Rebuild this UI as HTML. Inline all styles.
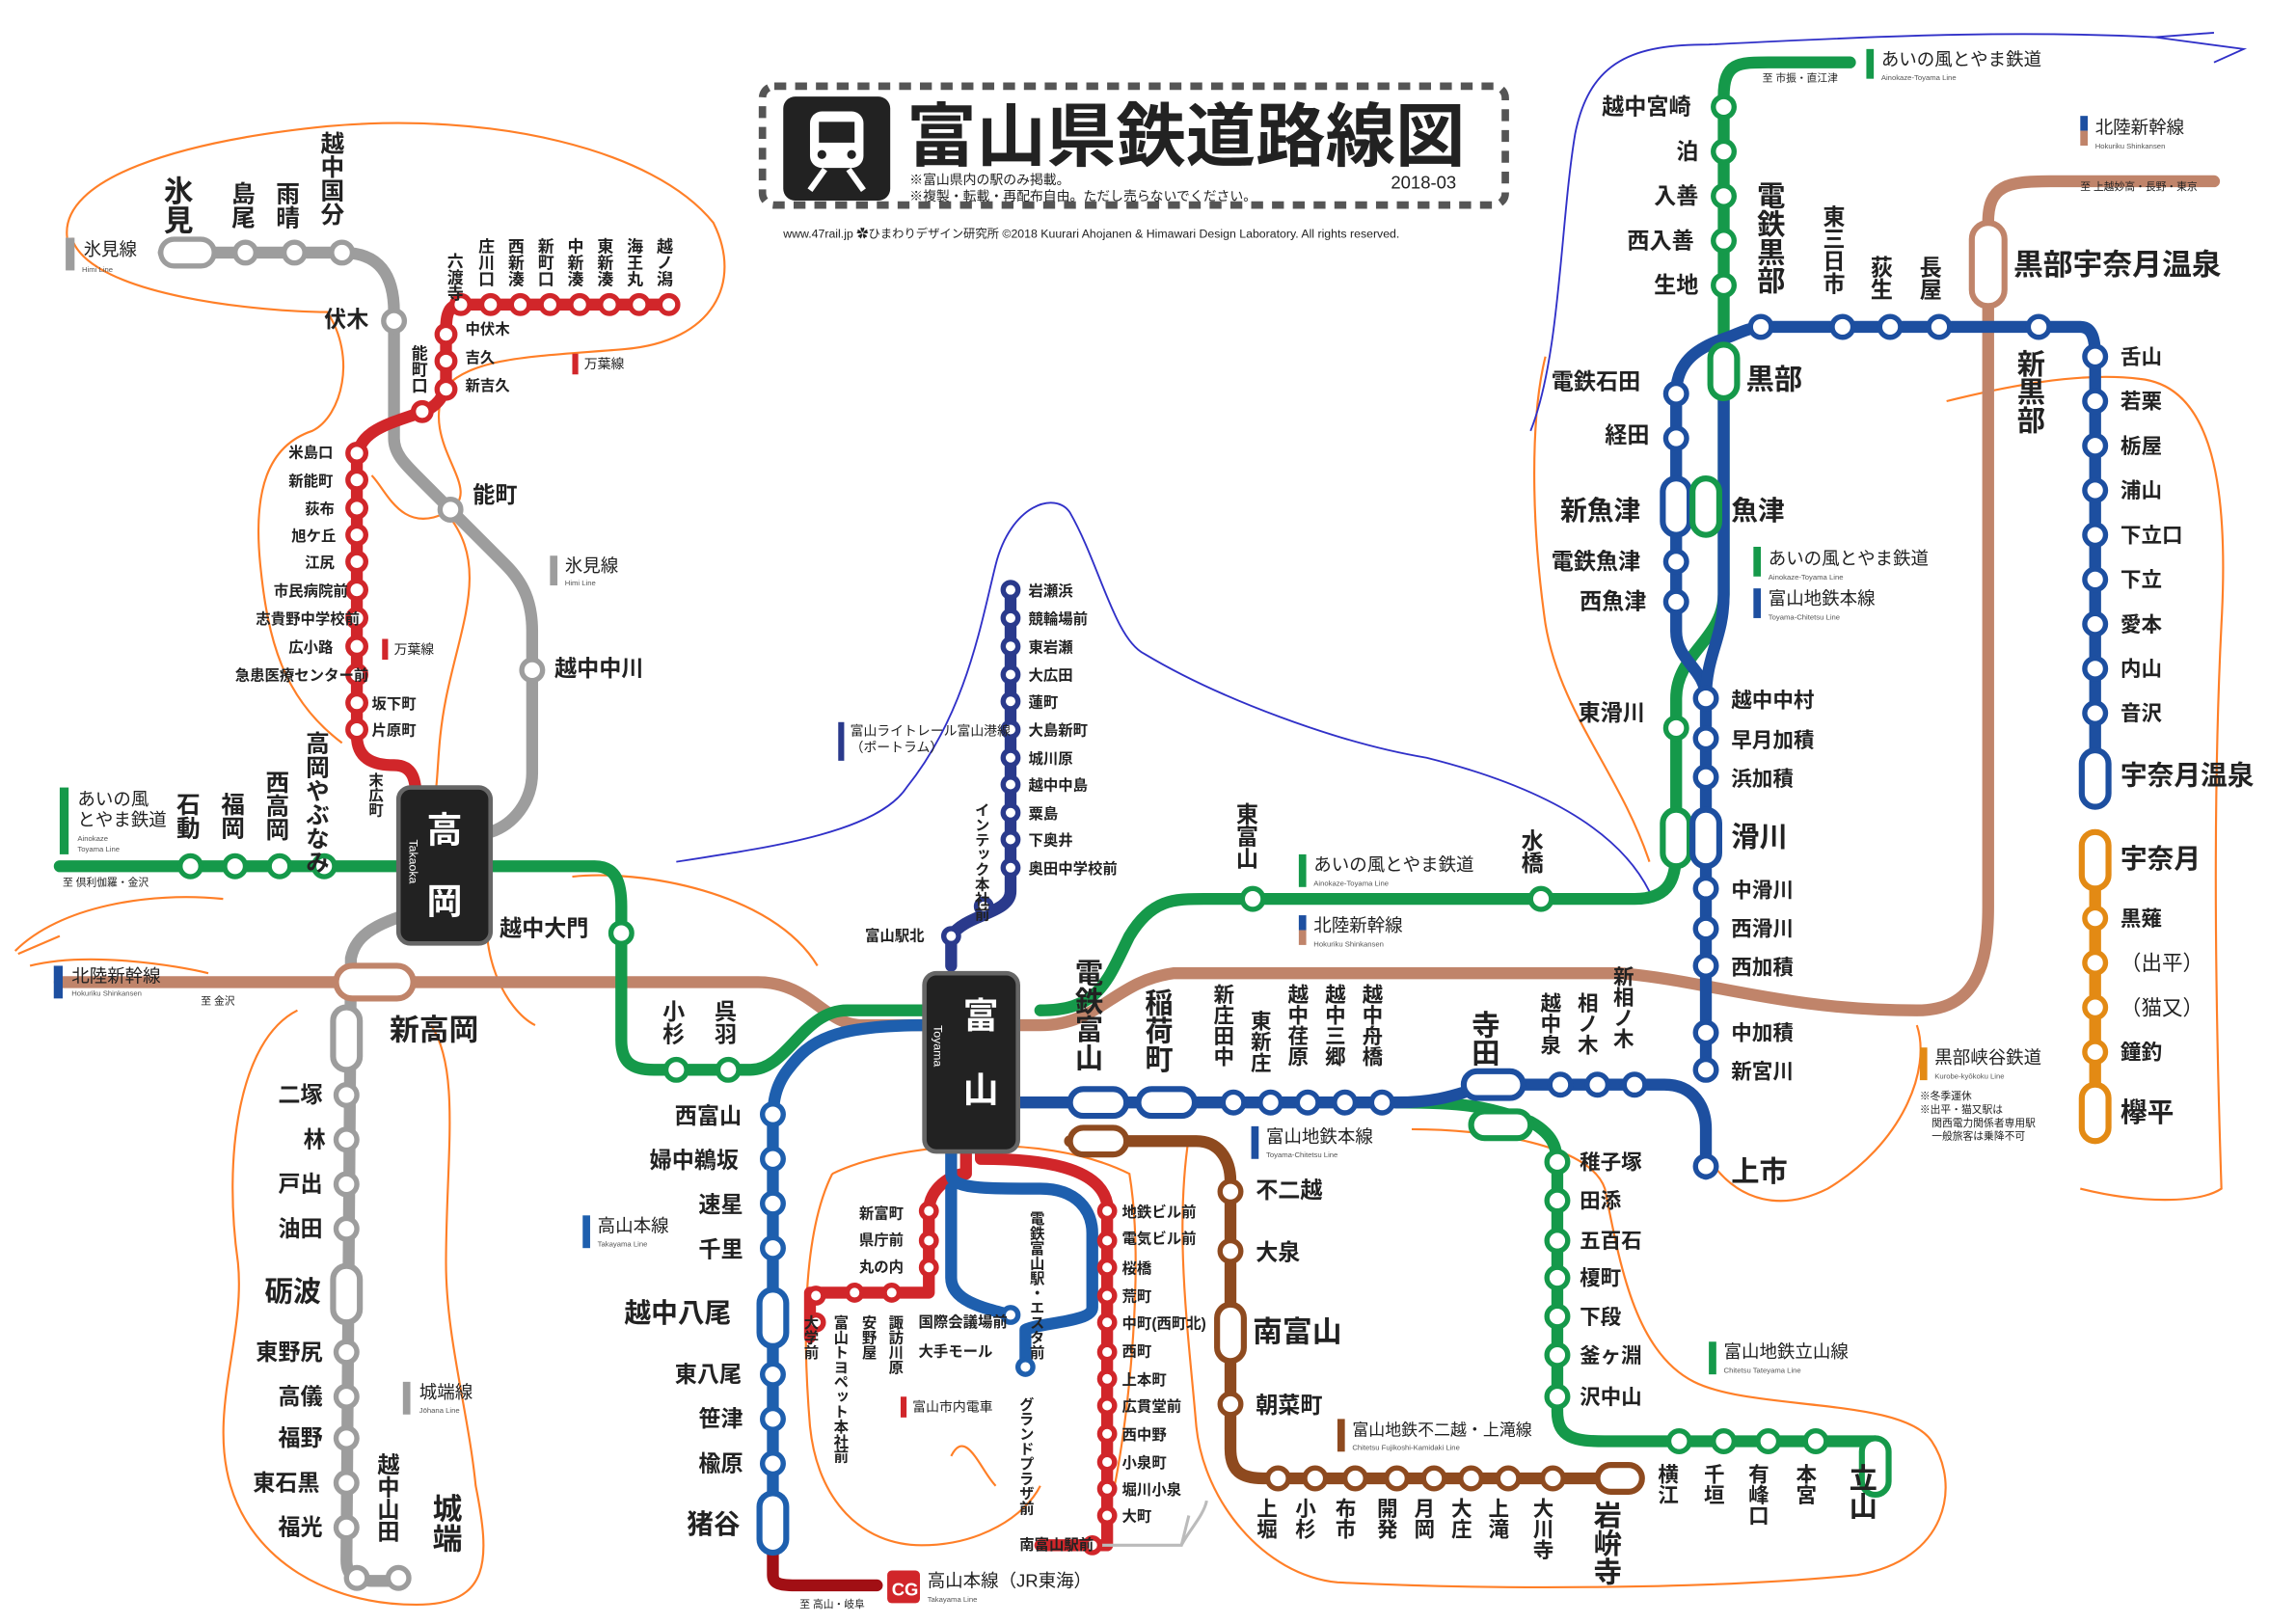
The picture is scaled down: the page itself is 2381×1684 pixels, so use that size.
<!DOCTYPE html>
<html><head><meta charset="utf-8"><style>
html,body{margin:0;padding:0;background:#fff}
svg{display:block}
text{font-family:"Liberation Sans","Noto Sans CJK JP",sans-serif;fill:#222}
.v{writing-mode:tb;glyph-orientation-vertical:0}
.s{fill:#fff;stroke-width:3.5}
.L{fill:none;stroke-width:8;stroke-linecap:round;stroke-linejoin:round}
.o{fill:none;stroke:#ff7f27;stroke-width:1.4}
.b{fill:none;stroke:#3030c8;stroke-width:1.2}
.sm{font-size:5px;fill:#555}
</style></head><body>
<svg width="2381" height="1684" viewBox="0 0 1545 1093" xmlns="http://www.w3.org/2000/svg">
<rect width="1545" height="1093" fill="#fff"/>

<!-- hand drawn outlines -->
<path class="o" d="M45,160 C40,120 120,95 220,85 C330,75 440,100 480,150 C500,190 480,230 420,235 C360,240 320,240 300,260 C280,300 330,330 300,345 C270,360 260,330 250,320 M300,345 C330,380 310,420 300,470 C290,520 300,540 280,560"/>
<path class="o" d="M48,160 C60,200 180,210 220,210 C240,240 230,280 210,290 C180,300 170,330 175,380 C180,430 190,470 230,500"/>
<path class="o" d="M10,640 C40,610 100,600 150,605 M12,642 L40,630 M20,650 C60,640 120,650 140,655"/>
<path class="o" d="M330,600 C320,640 340,680 360,690 M385,590 C430,585 520,600 550,650"/>
<path class="o" d="M200,680 C160,700 150,780 160,850 C165,900 140,950 155,1000 C170,1050 220,1080 280,1080 C330,1080 330,1050 320,1000 C315,950 300,900 300,850 C300,780 310,720 290,690"/>
<path class="o" d="M560,790 C540,830 540,900 545,960 C550,1010 580,1040 620,1040 C660,1040 690,1020 700,1000 M560,790 C600,770 700,760 760,790 C770,850 760,950 750,1000 M640,980 C650,960 660,990 670,1000"/>
<path class="o" d="M800,765 C790,830 800,900 805,960 C810,1010 850,1060 900,1065 C1000,1070 1150,1070 1250,1060 C1310,1050 1320,1000 1300,970 C1280,940 1180,950 1140,930 C1100,910 1090,850 1080,800 C1070,770 1000,760 950,760"/>
<path class="o" d="M1040,240 C1030,280 1030,350 1040,420 C1050,480 1090,520 1110,580 M1150,780 C1170,810 1200,815 1230,800 C1280,770 1300,720 1290,690 M1310,270 C1350,260 1400,250 1440,255 C1490,260 1500,330 1495,420 C1490,520 1490,650 1495,800 C1480,810 1440,810 1400,800"/>
<path class="b" d="M455,580 C520,570 590,560 610,530 C650,480 660,420 670,380 C680,340 710,330 720,345 C740,380 750,430 770,440 C820,470 900,500 960,510 C1040,530 1090,560 1110,600"/>
<path class="b" d="M1030,290 C1050,240 1050,150 1060,90 C1070,40 1100,30 1150,30 C1250,25 1350,20 1450,25 L1510,33 L1490,42 M1450,25 L1490,22"/>

<!-- title -->
<rect x="513" y="58" width="500" height="80" fill="none" stroke="#555" stroke-width="5" stroke-dasharray="8,6" rx="8"/>
<rect x="527" y="65" width="72" height="70" rx="8" fill="#222"/>
<rect x="545" y="75" width="36" height="38" rx="8" fill="#fff"/>
<rect x="551" y="82" width="24" height="14" fill="#222"/>
<circle cx="553" cy="104" r="3" fill="#222"/><circle cx="573" cy="104" r="3" fill="#222"/>
<path d="M545,128 L555,114 M581,128 L571,114" stroke="#fff" stroke-width="4"/>
<text x="610" y="108" font-size="47" font-weight="bold">富山県鉄道路線図</text>
<text x="612" y="124" font-size="9">※富山県内の駅のみ掲載。</text>
<text x="612" y="135" font-size="9">※複製・転載・再配布自由。ただし売らないでください。</text>
<text x="936" y="127" font-size="12">2018-03</text>
<text x="527" y="160" font-size="8">www.47rail.jp ✿ひまわりデザイン研究所 ©2018 Kuurari Ahojanen &amp; Himawari Design Laboratory. All rights reserved.</text>

<!-- LINES -->
<!-- shinkansen -->
<path class="L" stroke="#c0846a" stroke-width="9" d="M40,661 L510,661 C545,661 555,690 580,690 L700,690 C740,690 750,660 790,655 L1090,655 C1150,660 1200,680 1290,680 C1330,680 1338,650 1338,610 L1338,150 C1338,125 1350,122 1380,122 L1490,122"/>
<!-- ainokaze -->
<path class="L" stroke="#15994a" d="M40,583 L400,583 C415,583 418,595 418,610 L418,700 C418,715 425,720 440,720 L505,720 C530,720 540,680 570,680 L650,680 M700,680 C740,680 745,660 760,630 C775,605 790,605 810,605 L1100,605 C1125,605 1128,590 1128,570 L1128,470 C1128,440 1160,430 1160,400 L1160,65 C1160,42 1170,42 1190,42 L1245,42"/>
<!-- tateyama line -->
<path class="L" stroke="#15994a" d="M940,742 C990,742 1000,745 1030,755 C1048,765 1048,775 1048,790 L1048,950 C1048,968 1060,970 1080,970 L1262,970 L1262,1000"/>
<!-- himi line -->
<path class="L" stroke="#9d9d9d" d="M110,170 L230,170 C255,170 265,185 265,210 L265,295 C265,305 272,312 280,320 L340,380 C352,392 358,405 358,425 L358,520 C358,540 345,555 330,560"/>
<!-- johana -->
<path class="L" stroke="#9d9d9d" d="M290,610 C260,620 240,625 236,645 L233,1050 C233,1062 240,1064 252,1064 L272,1064"/>
<!-- manyo -->
<path class="L" stroke="#d1262a" d="M450,205 L310,205 C300,205 300,215 300,225 L300,255 C300,268 292,275 282,278 C262,285 240,290 240,310 L240,495 C240,510 250,515 265,515 C278,515 280,525 280,540 L280,555"/>
<!-- takayama -->
<path class="L" stroke="#1e5fae" d="M625,690 C560,690 545,700 530,720 C520,733 520,745 520,760 L520,1030"/>
<path class="L" stroke="#a10f14" d="M520,1030 L520,1060 C520,1066 525,1067 535,1067 L590,1067"/>
<!-- portram -->
<path class="L" stroke="#2a3a8c" stroke-width="6" d="M680,395 L680,600 C680,615 650,615 640,630 L640,650"/>
<!-- chitetsu main -->
<path class="L" stroke="#1d4fa0" d="M660,742 L940,742 C980,742 990,730 1010,730 L1120,730 C1140,730 1148,745 1148,760 L1148,790"/>
<path class="L" stroke="#1d4fa0" d="M1148,720 L1148,470 C1148,450 1128,445 1128,425 L1128,265 C1128,245 1140,235 1160,228 C1170,225 1175,220 1190,220 L1400,220 C1408,220 1410,228 1410,240 L1410,530"/>
<path class="L" stroke="#1d4fa0" d="M1148,470 C1148,440 1160,430 1160,400 L1160,260"/>
<!-- kurobe gorge -->
<path class="L" stroke="#e38a14" d="M1410,570 L1410,760"/>
<!-- fujikoshi -->
<path class="L" stroke="#8e4a1f" d="M720,768 L805,768 C820,768 828,780 828,795 L828,975 C828,990 835,995 850,995 L1095,995"/>
<!-- tram -->
<path class="L" stroke="#d1262a" stroke-width="5" d="M650,760 L650,790 C640,790 625,800 625,815 L625,870 L545,870 L545,900 M660,760 L660,780 C700,780 740,785 745,810 L745,1040 L700,1040"/>
<path class="L" stroke="#1e5fae" stroke-width="5" d="M640,760 L640,790 C640,800 660,800 700,800 C725,800 735,815 735,830 L735,880 C735,890 700,890 690,895 L690,920 M640,800 L640,860 C640,875 660,880 680,885"/>
<path d="M740,1040 L795,1040 L800,1020 M795,1040 C800,1030 810,1020 812,1010" stroke="#bbb" stroke-width="2" fill="none"/>

<!-- big stations -->
<rect x="268" y="530" width="62" height="105" rx="8" fill="#222" stroke="#666" stroke-width="3"/>
<text x="299" y="567" font-size="24" fill="#fff" text-anchor="middle" font-weight="bold" style="fill:#fff">高</text>
<text x="299" y="615" font-size="24" text-anchor="middle" font-weight="bold" style="fill:#fff">岡</text>
<text x="278" y="565" font-size="8" class="v" style="fill:#fff">Takaoka</text>
<rect x="622" y="655" width="63" height="120" rx="8" fill="#222" stroke="#666" stroke-width="3"/>
<text x="660" y="692" font-size="24" text-anchor="middle" font-weight="bold" style="fill:#fff">富</text>
<text x="660" y="742" font-size="24" text-anchor="middle" font-weight="bold" style="fill:#fff">山</text>
<text x="631" y="690" font-size="8" class="v" style="fill:#fff">Toyama</text>

<!-- capsules -->
<g fill="#fff" stroke-width="4">
<rect x="226" y="650" width="52" height="22" rx="11" stroke="#c0846a"/>
<rect x="224" y="678" width="18" height="42" rx="9" stroke="#9d9d9d"/>
<rect x="224" y="852" width="18" height="38" rx="9" stroke="#9d9d9d"/>
<rect x="511" y="868" width="18" height="38" rx="9" stroke="#1e5fae"/>
<rect x="511" y="1005" width="18" height="40" rx="9" stroke="#1e5fae"/>
<rect x="720" y="733" width="38" height="18" rx="9" stroke="#1d4fa0"/>
<rect x="766" y="733" width="38" height="18" rx="9" stroke="#1d4fa0"/>
<rect x="720" y="759" width="38" height="18" rx="9" stroke="#8e4a1f"/>
<rect x="819" y="878" width="18" height="38" rx="9" stroke="#8e4a1f"/>
<rect x="985" y="721" width="40" height="18" rx="9" stroke="#1d4fa0"/>
<rect x="990" y="748" width="40" height="18" rx="9" stroke="#15994a"/>
<rect x="1075" y="986" width="30" height="18" rx="9" stroke="#8e4a1f"/>
<rect x="1253" y="968" width="18" height="38" rx="9" stroke="#15994a"/>
<rect x="1119" y="545" width="18" height="38" rx="9" stroke="#15994a"/>
<rect x="1139" y="545" width="18" height="38" rx="9" stroke="#1d4fa0"/>
<rect x="1119" y="322" width="18" height="38" rx="9" stroke="#1d4fa0"/>
<rect x="1139" y="322" width="18" height="38" rx="9" stroke="#15994a"/>
<rect x="1151" y="232" width="18" height="36" rx="9" stroke="#15994a"/>
<rect x="1327" y="150" width="22" height="56" rx="11" stroke="#c0846a"/>
<rect x="1401" y="505" width="18" height="38" rx="9" stroke="#1d4fa0"/>
<rect x="1401" y="560" width="18" height="38" rx="9" stroke="#e38a14"/>
<rect x="1401" y="730" width="18" height="38" rx="9" stroke="#e38a14"/>
</g>

<!-- station circles -->
<g class="s" stroke="#9d9d9d">
<rect x="108" y="161" width="36" height="18" rx="9" fill="#fff"/>
<circle cx="165" cy="170" r="7"/><circle cx="198" cy="170" r="7"/><circle cx="230" cy="170" r="7"/>
<circle cx="265" cy="216" r="7"/><circle cx="303" cy="343" r="7"/><circle cx="358" cy="451" r="7"/>
<circle cx="233" cy="737" r="7"/><circle cx="233" cy="767" r="7"/><circle cx="233" cy="797" r="7"/><circle cx="233" cy="827" r="7"/>
<circle cx="233" cy="910" r="7"/><circle cx="233" cy="940" r="7"/><circle cx="233" cy="968" r="7"/><circle cx="233" cy="998" r="7"/><circle cx="233" cy="1028" r="7"/>
<circle cx="240" cy="1062" r="7"/><circle cx="268" cy="1062" r="7"/>
</g>
<g class="s" stroke="#d1262a">
<circle cx="450" cy="205" r="6"/><circle cx="430" cy="205" r="6"/><circle cx="410" cy="205" r="6"/><circle cx="390" cy="205" r="6"/><circle cx="370" cy="205" r="6"/><circle cx="350" cy="205" r="6"/><circle cx="330" cy="205" r="6"/><circle cx="310" cy="205" r="6"/>
<circle cx="300" cy="225" r="6"/><circle cx="300" cy="243" r="6"/><circle cx="300" cy="262" r="6"/><circle cx="284" cy="277" r="6"/>
<circle cx="240" cy="305" r="6"/><circle cx="240" cy="323" r="6"/><circle cx="240" cy="342" r="6"/><circle cx="240" cy="360" r="6"/><circle cx="240" cy="378" r="6"/><circle cx="240" cy="397" r="6"/><circle cx="240" cy="416" r="6"/><circle cx="240" cy="435" r="6"/><circle cx="240" cy="454" r="6"/><circle cx="240" cy="473" r="6"/><circle cx="240" cy="491" r="6"/>
<circle cx="549" cy="872" r="5"/><circle cx="549" cy="890" r="5"/><circle cx="625" cy="815" r="5"/><circle cx="625" cy="835" r="5"/><circle cx="625" cy="853" r="5"/><circle cx="600" cy="870" r="5"/><circle cx="575" cy="870" r="5"/>
<circle cx="745" cy="815" r="5"/><circle cx="745" cy="835" r="5"/><circle cx="745" cy="853" r="5"/><circle cx="745" cy="872" r="5"/><circle cx="745" cy="890" r="5"/><circle cx="745" cy="910" r="5"/><circle cx="745" cy="928" r="5"/><circle cx="745" cy="946" r="5"/><circle cx="745" cy="965" r="5"/><circle cx="745" cy="984" r="5"/><circle cx="745" cy="1002" r="5"/><circle cx="745" cy="1020" r="5"/><circle cx="735" cy="1040" r="5"/>
</g>
<g class="s" stroke="#15994a">
<circle cx="128" cy="583" r="7"/><circle cx="158" cy="583" r="7"/><circle cx="188" cy="583" r="7"/><circle cx="218" cy="583" r="7"/>
<circle cx="418" cy="628" r="7"/><circle cx="455" cy="720" r="7"/><circle cx="490" cy="720" r="7"/>
<circle cx="843" cy="605" r="7"/><circle cx="1037" cy="605" r="7"/><circle cx="1128" cy="490" r="7"/>
<circle cx="1160" cy="192" r="7"/><circle cx="1160" cy="162" r="7"/><circle cx="1160" cy="132" r="7"/><circle cx="1160" cy="102" r="7"/><circle cx="1160" cy="72" r="7"/>
<circle cx="1048" cy="782" r="7"/><circle cx="1048" cy="808" r="7"/><circle cx="1048" cy="835" r="7"/><circle cx="1048" cy="860" r="7"/><circle cx="1048" cy="886" r="7"/><circle cx="1048" cy="912" r="7"/><circle cx="1048" cy="940" r="7"/>
<circle cx="1130" cy="970" r="7"/><circle cx="1160" cy="970" r="7"/><circle cx="1190" cy="970" r="7"/><circle cx="1222" cy="970" r="7"/>
</g>
<g class="s" stroke="#1d4fa0">
<circle cx="830" cy="742" r="7"/><circle cx="855" cy="742" r="7"/><circle cx="880" cy="742" r="7"/><circle cx="905" cy="742" r="7"/><circle cx="930" cy="742" r="7"/>
<circle cx="1050" cy="730" r="7"/><circle cx="1075" cy="730" r="7"/><circle cx="1100" cy="730" r="7"/><circle cx="1148" cy="785" r="7"/>
<circle cx="1148" cy="470" r="7"/><circle cx="1148" cy="497" r="7"/><circle cx="1148" cy="523" r="7"/><circle cx="1148" cy="598" r="7"/><circle cx="1148" cy="625" r="7"/><circle cx="1148" cy="650" r="7"/><circle cx="1148" cy="695" r="7"/><circle cx="1148" cy="720" r="7"/>
<circle cx="1128" cy="378" r="7"/><circle cx="1128" cy="405" r="7"/><circle cx="1128" cy="295" r="7"/><circle cx="1128" cy="265" r="7"/>
<circle cx="1185" cy="220" r="7"/><circle cx="1240" cy="220" r="7"/><circle cx="1272" cy="220" r="7"/><circle cx="1305" cy="220" r="7"/><circle cx="1372" cy="220" r="7"/>
<circle cx="1410" cy="240" r="7"/><circle cx="1410" cy="270" r="7"/><circle cx="1410" cy="300" r="7"/><circle cx="1410" cy="330" r="7"/><circle cx="1410" cy="360" r="7"/><circle cx="1410" cy="390" r="7"/><circle cx="1410" cy="420" r="7"/><circle cx="1410" cy="450" r="7"/><circle cx="1410" cy="480" r="7"/>
</g>
<g class="s" stroke="#1e5fae">
<circle cx="520" cy="750" r="7"/><circle cx="520" cy="780" r="7"/><circle cx="520" cy="810" r="7"/><circle cx="520" cy="840" r="7"/><circle cx="520" cy="925" r="7"/><circle cx="520" cy="955" r="7"/><circle cx="520" cy="985" r="7"/>
<circle cx="690" cy="920" r="5"/><circle cx="680" cy="885" r="5"/>
</g>
<g class="s" stroke="#2a3a8c" stroke-width="3">
<circle cx="680" cy="397" r="5"/><circle cx="680" cy="416" r="5"/><circle cx="680" cy="435" r="5"/><circle cx="680" cy="454" r="5"/><circle cx="680" cy="472" r="5"/><circle cx="680" cy="491" r="5"/><circle cx="680" cy="510" r="5"/><circle cx="680" cy="528" r="5"/><circle cx="680" cy="547" r="5"/><circle cx="680" cy="565" r="5"/><circle cx="680" cy="584" r="5"/><circle cx="662" cy="610" r="5"/><circle cx="640" cy="630" r="5"/>
</g>
<g class="s" stroke="#8e4a1f">
<circle cx="828" cy="802" r="7"/><circle cx="828" cy="842" r="7"/><circle cx="828" cy="945" r="7"/>
<circle cx="860" cy="995" r="7"/><circle cx="885" cy="995" r="7"/><circle cx="912" cy="995" r="7"/><circle cx="940" cy="995" r="7"/><circle cx="965" cy="995" r="7"/><circle cx="990" cy="995" r="7"/><circle cx="1015" cy="995" r="7"/><circle cx="1045" cy="995" r="7"/>
</g>
<g class="s" stroke="#e38a14">
<circle cx="1410" cy="618" r="7"/><circle cx="1410" cy="648" r="7"/><circle cx="1410" cy="678" r="7"/><circle cx="1410" cy="708" r="7"/>
</g>

<!-- LABELS west -->
<g font-weight="bold">
<text x="118" y="118" font-size="20" class="v">氷見</text>
<text x="162" y="122" font-size="16" class="v">島尾</text>
<text x="192" y="122" font-size="16" class="v">雨晴</text>
<text x="222" y="88" font-size="16" class="v">越中国分</text>
<text x="218" y="220" font-size="15">伏木</text>
<text x="318" y="338" font-size="15">能町</text>
<text x="373" y="455" font-size="15">越中中川</text>
<text x="125" y="533" font-size="16" class="v">石動</text>
<text x="155" y="533" font-size="16" class="v">福岡</text>
<text x="185" y="518" font-size="16" class="v">西高岡</text>
<text x="212" y="492" font-size="16" class="v">高岡やぶなみ</text>
<text x="336" y="630" font-size="15">越中大門</text>
<text x="452" y="673" font-size="15" class="v">小杉</text>
<text x="487" y="673" font-size="15" class="v">呉羽</text>
<text x="262" y="700" font-size="20">新高岡</text>
<text x="187" y="742" font-size="15">二塚</text>
<text x="204" y="772" font-size="15">林</text>
<text x="187" y="802" font-size="15">戸出</text>
<text x="187" y="832" font-size="15">油田</text>
<text x="178" y="876" font-size="19">砺波</text>
<text x="172" y="915" font-size="15">東野尻</text>
<text x="187" y="945" font-size="15">高儀</text>
<text x="187" y="973" font-size="15">福野</text>
<text x="170" y="1003" font-size="15">東石黒</text>
<text x="187" y="1033" font-size="15">福光</text>
<text x="260" y="978" font-size="15" class="v">越中山田</text>
<text x="299" y="1005" font-size="20" class="v">城端</text>
<text x="454" y="756" font-size="15">西富山</text>
<text x="437" y="786" font-size="15">婦中鵜坂</text>
<text x="470" y="816" font-size="15">速星</text>
<text x="470" y="846" font-size="15">千里</text>
<text x="420" y="890" font-size="18">越中八尾</text>
<text x="454" y="930" font-size="15">東八尾</text>
<text x="470" y="960" font-size="15">笹津</text>
<text x="470" y="990" font-size="15">楡原</text>
<text x="462" y="1032" font-size="18">猪谷</text>
<text x="305" y="170" font-size="11" class="v">六渡寺</text>
<text x="326" y="160" font-size="11" class="v">庄川口</text>
<text x="346" y="160" font-size="11" class="v">西新湊</text>
<text x="366" y="160" font-size="11" class="v">新町口</text>
<text x="386" y="160" font-size="11" class="v">中新湊</text>
<text x="406" y="160" font-size="11" class="v">東新湊</text>
<text x="426" y="160" font-size="11" class="v">海王丸</text>
<text x="446" y="160" font-size="11" class="v">越ノ潟</text>
<text x="313" y="225" font-size="10">中伏木</text>
<text x="313" y="244" font-size="10">吉久</text>
<text x="313" y="263" font-size="10">新吉久</text>
<text x="281" y="232" font-size="11" class="v">能町口</text>
<text x="194" y="308" font-size="10">米島口</text>
<text x="194" y="327" font-size="10">新能町</text>
<text x="205" y="346" font-size="10">荻布</text>
<text x="196" y="364" font-size="10">旭ケ丘</text>
<text x="205" y="382" font-size="10">江尻</text>
<text x="184" y="401" font-size="10">市民病院前</text>
<text x="172" y="420" font-size="10">志貴野中学校前</text>
<text x="194" y="439" font-size="10">広小路</text>
<text x="158" y="458" font-size="10">急患医療センター前</text>
<text x="250" y="477" font-size="10">坂下町</text>
<text x="250" y="495" font-size="10">片原町</text>
<text x="252" y="520" font-size="10" class="v">末広町</text>
</g>
<text x="56" y="172" font-size="12" fill="#555">氷見線</text><rect x="44" y="160" width="6" height="22" fill="#9d9d9d"/>
<text x="55" y="183" class="sm">Himi Line</text>
<rect x="370" y="374" width="5" height="20" fill="#9d9d9d"/><text x="380" y="385" font-size="12">氷見線</text><text x="380" y="394" class="sm">Himi Line</text>
<rect x="385" y="238" width="4" height="14" fill="#d1262a"/><text x="393" y="248" font-size="9">万葉線</text>
<rect x="257" y="430" width="4" height="14" fill="#d1262a"/><text x="265" y="440" font-size="9">万葉線</text>
<rect x="40" y="530" width="6" height="45" fill="#15994a"/><text x="52" y="542" font-size="12">あいの風</text><text x="52" y="556" font-size="12">とやま鉄道</text><text x="52" y="566" class="sm">Ainokaze</text><text x="52" y="573" class="sm">Toyama Line</text>
<text x="42" y="596" font-size="7">至 倶利伽羅・金沢</text>
<rect x="36" y="650" width="6" height="22" fill="#1d4fa0"/><text x="48" y="661" font-size="12">北陸新幹線</text><text x="48" y="670" class="sm">Hokuriku Shinkansen</text>
<text x="135" y="676" font-size="7">至 金沢</text>
<rect x="271" y="930" width="5" height="22" fill="#9d9d9d"/><text x="282" y="941" font-size="12">城端線</text><text x="282" y="951" class="sm">Jōhana Line</text>
<rect x="392" y="818" width="5" height="22" fill="#1e5fae"/><text x="402" y="829" font-size="12">高山本線</text><text x="402" y="839" class="sm">Takayama Line</text>
<text x="538" y="1082" font-size="7">至 高山・岐阜</text>
<rect x="597" y="1057" width="22" height="22" rx="3" fill="#d1262a"/><text x="600" y="1074" font-size="12" font-weight="bold" style="fill:#fff">CG</text>
<text x="624" y="1068" font-size="12">高山本線（JR東海）</text><text x="624" y="1078" class="sm">Takayama Line</text>

<!-- portram labels -->
<g font-weight="bold" font-size="10">
<text x="692" y="401">岩瀬浜</text><text x="692" y="420">競輪場前</text><text x="692" y="439">東岩瀬</text><text x="692" y="458">大広田</text><text x="692" y="476">蓮町</text><text x="692" y="495">大島新町</text><text x="692" y="514">城川原</text><text x="692" y="532">越中中島</text><text x="692" y="551">粟島</text><text x="692" y="569">下奥井</text><text x="692" y="588">奥田中学校前</text>
<text x="660" y="540" class="v">インテック本社前</text>
<text x="582" y="633">富山駅北</text>
</g>
<rect x="564" y="486" width="4" height="26" fill="#2a3a8c"/><text x="572" y="495" font-size="9">富山ライトレール富山港線</text><text x="572" y="506" font-size="9">（ポートラム）</text>

<!-- tram labels -->
<g font-size="10" font-weight="bold">
<text x="578" y="820">新富町</text><text x="578" y="838">県庁前</text><text x="578" y="856">丸の内</text>
<text x="545" y="885" class="v">大学前</text><text x="565" y="885" class="v">富山トヨペット本社前</text><text x="584" y="885" class="v">安野屋</text><text x="602" y="885" class="v">諏訪川原</text>
<text x="618" y="893">国際会議場前</text><text x="618" y="913">大手モール</text>
<text x="755" y="819">地鉄ビル前</text><text x="755" y="837">電気ビル前</text><text x="755" y="857">桜橋</text><text x="755" y="876">荒町</text><text x="755" y="894">中町(西町北)</text><text x="755" y="913">西町</text><text x="755" y="932">上本町</text><text x="755" y="950">広貫堂前</text><text x="755" y="969">西中野</text><text x="755" y="988">小泉町</text><text x="755" y="1006">堀川小泉</text><text x="755" y="1024">大町</text>
<text x="686" y="1043">南富山駅前</text>
<text x="697" y="815" class="v">電鉄富山駅・エスタ前</text>
<text x="690" y="940" class="v">グランドプラザ前</text>
</g>
<rect x="606" y="940" width="4" height="14" fill="#d1262a"/><text x="614" y="950" font-size="9">富山市内電車</text>

<!-- central east labels -->
<g font-weight="bold">
<text x="731" y="645" font-size="19" class="v">電鉄富山</text>
<text x="778" y="665" font-size="19" class="v">稲荷町</text>
<text x="823" y="662" font-size="14" class="v">新庄田中</text>
<text x="848" y="680" font-size="14" class="v">東新庄</text>
<text x="873" y="662" font-size="14" class="v">越中荏原</text>
<text x="898" y="662" font-size="14" class="v">越中三郷</text>
<text x="923" y="662" font-size="14" class="v">越中舟橋</text>
<text x="998" y="680" font-size="19" class="v">寺田</text>
<text x="1043" y="668" font-size="14" class="v">越中泉</text>
<text x="1068" y="668" font-size="14" class="v">相ノ木</text>
<text x="1092" y="650" font-size="14" class="v">新相ノ木</text>
<text x="1165" y="795" font-size="19">上市</text>
<text x="838" y="540" font-size="15" class="v">東富山</text>
<text x="1030" y="558" font-size="15" class="v">水橋</text>
<text x="845" y="806" font-size="15">不二越</text>
<text x="845" y="848" font-size="15">大泉</text>
<text x="843" y="903" font-size="20">南富山</text>
<text x="845" y="951" font-size="15">朝菜町</text>
<text x="852" y="1008" font-size="14" class="v">上堀</text>
<text x="878" y="1008" font-size="14" class="v">小杉</text>
<text x="905" y="1008" font-size="14" class="v">布市</text>
<text x="933" y="1008" font-size="14" class="v">開発</text>
<text x="958" y="1008" font-size="14" class="v">月岡</text>
<text x="983" y="1008" font-size="14" class="v">大庄</text>
<text x="1008" y="1008" font-size="14" class="v">上滝</text>
<text x="1038" y="1008" font-size="14" class="v">大川寺</text>
<text x="1080" y="1010" font-size="19" class="v">岩峅寺</text>
<text x="1122" y="985" font-size="14" class="v">横江</text>
<text x="1153" y="985" font-size="14" class="v">千垣</text>
<text x="1183" y="985" font-size="14" class="v">有峰口</text>
<text x="1215" y="985" font-size="14" class="v">本宮</text>
<text x="1252" y="985" font-size="19" class="v">立山</text>
<text x="1063" y="787" font-size="14">稚子塚</text>
<text x="1063" y="813" font-size="14">田添</text>
<text x="1063" y="840" font-size="14">五百石</text>
<text x="1063" y="865" font-size="14">榎町</text>
<text x="1063" y="891" font-size="14">下段</text>
<text x="1063" y="917" font-size="14">釜ヶ淵</text>
<text x="1063" y="945" font-size="14">沢中山</text>
</g>
<rect x="874" y="575" width="5" height="22" fill="#15994a"/><text x="884" y="586" font-size="12">あいの風とやま鉄道</text><text x="884" y="596" class="sm">Ainokaze-Toyama Line</text>
<rect x="874" y="616" width="5" height="10" fill="#1d4fa0"/><rect x="874" y="626" width="5" height="10" fill="#c0846a"/><text x="884" y="627" font-size="12">北陸新幹線</text><text x="884" y="637" class="sm">Hokuriku Shinkansen</text>
<rect x="842" y="758" width="5" height="22" fill="#1d4fa0"/><text x="852" y="769" font-size="12">富山地鉄本線</text><text x="852" y="779" class="sm">Toyama-Chitetsu Line</text>
<rect x="900" y="955" width="5" height="22" fill="#8e4a1f"/><text x="910" y="966" font-size="11">富山地鉄不二越・上滝線</text><text x="910" y="976" class="sm">Chitetsu Fujikoshi-Kamidaki Line</text>
<rect x="1150" y="903" width="5" height="22" fill="#15994a"/><text x="1160" y="914" font-size="12">富山地鉄立山線</text><text x="1160" y="924" class="sm">Chitetsu Tateyama Line</text>

<!-- east labels -->
<g font-weight="bold">
<text x="1078" y="77" font-size="15">越中宮崎</text>
<text x="1128" y="107" font-size="15">泊</text>
<text x="1113" y="137" font-size="15">入善</text>
<text x="1095" y="167" font-size="15">西入善</text>
<text x="1113" y="197" font-size="15">生地</text>
<text x="1190" y="122" font-size="19" class="v">電鉄黒部</text>
<text x="1233" y="138" font-size="15" class="v">東三日市</text>
<text x="1265" y="172" font-size="15" class="v">荻生</text>
<text x="1298" y="172" font-size="15" class="v">長屋</text>
<text x="1355" y="185" font-size="20">黒部宇奈月温泉</text>
<text x="1365" y="235" font-size="19" class="v">新黒部</text>
<text x="1175" y="262" font-size="19">黒部</text>
<text x="1044" y="262" font-size="15">電鉄石田</text>
<text x="1080" y="298" font-size="15">経田</text>
<text x="1050" y="350" font-size="18">新魚津</text>
<text x="1165" y="350" font-size="18">魚津</text>
<text x="1044" y="383" font-size="15">電鉄魚津</text>
<text x="1063" y="410" font-size="15">西魚津</text>
<text x="1062" y="485" font-size="15">東滑川</text>
<text x="1165" y="476" font-size="14">越中中村</text>
<text x="1165" y="503" font-size="14">早月加積</text>
<text x="1165" y="529" font-size="14">浜加積</text>
<text x="1165" y="570" font-size="19">滑川</text>
<text x="1165" y="604" font-size="14">中滑川</text>
<text x="1165" y="630" font-size="14">西滑川</text>
<text x="1165" y="656" font-size="14">西加積</text>
<text x="1165" y="700" font-size="14">中加積</text>
<text x="1165" y="726" font-size="14">新宮川</text>
<text x="1427" y="245" font-size="14">舌山</text>
<text x="1427" y="275" font-size="14">若栗</text>
<text x="1427" y="305" font-size="14">栃屋</text>
<text x="1427" y="335" font-size="14">浦山</text>
<text x="1427" y="365" font-size="14">下立口</text>
<text x="1427" y="395" font-size="14">下立</text>
<text x="1427" y="425" font-size="14">愛本</text>
<text x="1427" y="455" font-size="14">内山</text>
<text x="1427" y="485" font-size="14">音沢</text>
<text x="1427" y="528" font-size="18">宇奈月温泉</text>
<text x="1427" y="584" font-size="18">宇奈月</text>
<text x="1427" y="623" font-size="14">黒薙</text>
<text x="1427" y="653" font-size="14" font-weight="normal">（出平）</text>
<text x="1427" y="683" font-size="14" font-weight="normal">（猫又）</text>
<text x="1427" y="713" font-size="14">鐘釣</text>
<text x="1427" y="755" font-size="18">欅平</text>
</g>
<rect x="1256" y="33" width="5" height="20" fill="#15994a"/><text x="1266" y="44" font-size="12">あいの風とやま鉄道</text><text x="1266" y="54" class="sm">Ainokaze-Toyama Line</text>
<text x="1186" y="55" font-size="7">至 市振・直江津</text>
<rect x="1400" y="78" width="5" height="10" fill="#1d4fa0"/><rect x="1400" y="88" width="5" height="10" fill="#c0846a"/><text x="1410" y="90" font-size="12">北陸新幹線</text><text x="1410" y="100" class="sm">Hokuriku Shinkansen</text>
<text x="1400" y="128" font-size="7">至 上越妙高・長野・東京</text>
<rect x="1180" y="368" width="5" height="20" fill="#15994a"/><text x="1190" y="380" font-size="12">あいの風とやま鉄道</text><text x="1190" y="390" class="sm">Ainokaze-Toyama Line</text>
<rect x="1180" y="396" width="5" height="20" fill="#1d4fa0"/><text x="1190" y="407" font-size="12">富山地鉄本線</text><text x="1190" y="417" class="sm">Toyama-Chitetsu Line</text>
<rect x="1292" y="705" width="5" height="22" fill="#e38a14"/><text x="1302" y="716" font-size="12">黒部峡谷鉄道</text><text x="1302" y="726" class="sm">Kurobe-kyōkoku Line</text>
<text x="1292" y="740" font-size="7">※冬季運休</text>
<text x="1292" y="749" font-size="7">※出平・猫又駅は</text>
<text x="1300" y="758" font-size="7">関西電力関係者専用駅</text>
<text x="1300" y="767" font-size="7">一般旅客は乗降不可</text>
</svg>
</body></html>
